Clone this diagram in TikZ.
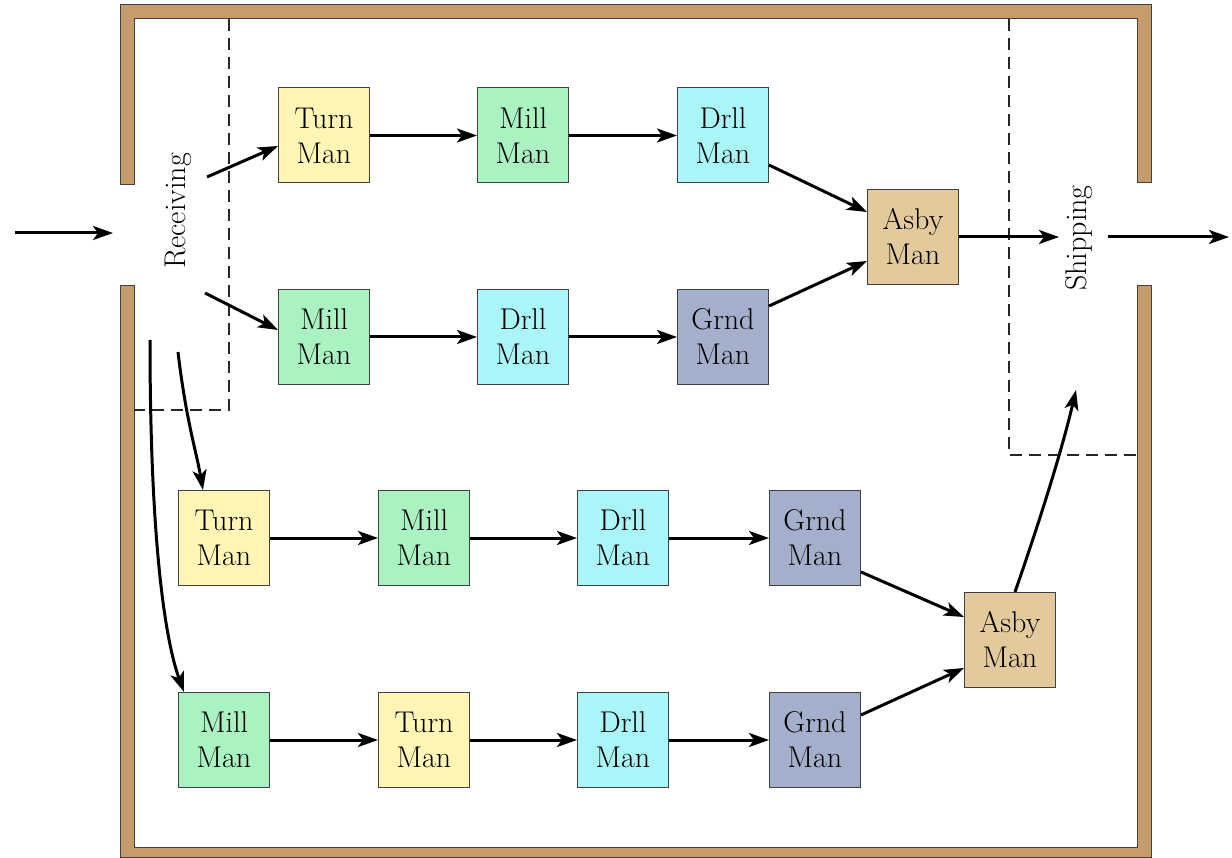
\documentclass[tikz,border=0pt]{standalone}
\usetikzlibrary{arrows.meta}
\definecolor{wall}{HTML}{C69C6D}
\definecolor{turnc}{HTML}{FFF6B6}
\definecolor{millc}{HTML}{AAF2C2}
\definecolor{drllc}{HTML}{A9F5F7}
\definecolor{grndc}{HTML}{A4AFCB}
\definecolor{asbyc}{HTML}{E3CA9C}
\begin{document}
\begin{tikzpicture}[x=1pt,y=-1pt,
  mach/.style={draw=black!75,line width=1pt,minimum width=91pt,minimum height=95pt,inner sep=0pt,align=center,font=\fontsize{30}{35}\selectfont},
  turn/.style={mach,fill=turnc},
  mill/.style={mach,fill=millc},
  drll/.style={mach,fill=drllc},
  grnd/.style={mach,fill=grndc},
  asby/.style={mach,fill=asbyc},
  flow/.style={line width=3pt,-{Stealth[length=20pt,width=14pt,inset=5pt]}},
  wallline/.style={fill=wall,draw=black!75,line width=1pt},
  zone/.style={dash pattern=on 12pt off 7pt,line width=1.2pt,black!85},
  lbl/.style={rotate=90,font=\fontsize{30}{35}\selectfont,inner sep=0pt}]
\useasboundingbox (0,0) rectangle (1232,858);
% walls
\draw[wallline] (120,185) -- (120,5) -- (1151,5) -- (1151,183) -- (1137,183) -- (1137,19) -- (134,19) -- (134,185) -- cycle;
\draw[wallline] (120,286) -- (120,857) -- (1151,857) -- (1151,286) -- (1137,286) -- (1137,847) -- (134,847) -- (134,286) -- cycle;
% zones
\draw[zone] (229,19) -- (229,410) -- (134,410);
\draw[zone] (1009,19) -- (1009,455) -- (1137,455);
% labels
\node[lbl] (rec) at (178,211) {Receiving};
\node[lbl] (shp) at (1079,238) {Shipping};
% row 1
\node[turn] (t1) at (324,135.5) {Turn\\Man};
\node[mill] (m1) at (523,135.5) {Mill\\Man};
\node[drll] (d1) at (723,135.5) {Drll\\Man};
% row 2
\node[mill] (m2) at (324,337) {Mill\\Man};
\node[drll] (d2) at (523,337) {Drll\\Man};
\node[grnd] (g2) at (723,337) {Grnd\\Man};
\node[asby] (a1) at (913,237) {Asby\\Man};
% row 3
\node[turn] (t3) at (224,538) {Turn\\Man};
\node[mill] (m3) at (424,538) {Mill\\Man};
\node[drll] (d3) at (623,538) {Drll\\Man};
\node[grnd] (g3) at (815,538) {Grnd\\Man};
% row 4
\node[mill] (m4) at (224,740) {Mill\\Man};
\node[turn] (t4) at (424,740) {Turn\\Man};
\node[drll] (d4) at (623,740) {Drll\\Man};
\node[grnd] (g4) at (815,740) {Grnd\\Man};
\node[asby] (a2) at (1010,640) {Asby\\Man};
% free ends
\coordinate (in0) at (15,233);
\coordinate (in1) at (113,233);
\coordinate (r1) at (207,177);
\coordinate (r2) at (205,293);
\coordinate (r3) at (178,352);
\coordinate (r4) at (150,340);
\coordinate (s1) at (1059,237);
\coordinate (s2) at (1108,237);
\coordinate (s3) at (1229,237);
\coordinate (s4) at (1076,390);
% arrows
\draw[flow] (in0) -- (in1);
\draw[flow] (r1) -- (t1.west |- 0,146);
\draw[flow] (r2) -- (m2.west |- 0,330);
\draw[flow] (r3) .. controls (186,420) and (196,450) .. (t3.north -| 203,0);
\draw[flow] (r4) .. controls (150,540) and (165,640) .. (m4.north -| 184,0);
\draw[flow] (t1) -- (m1);
\draw[flow] (m1) -- (d1);
\draw[flow] (m2) -- (d2);
\draw[flow] (d2) -- (g2);
\draw[flow] (d1.east |- 0,165) -- (a1.west |- 0,212);
\draw[flow] (g2.east |- 0,306) -- (a1.west |- 0,261);
\draw[flow] (a1) -- (s1);
\draw[flow] (s2) -- (s3);
\draw[flow] (t3) -- (m3);
\draw[flow] (m3) -- (d3);
\draw[flow] (d3) -- (g3);
\draw[flow] (m4) -- (t4);
\draw[flow] (t4) -- (d4);
\draw[flow] (d4) -- (g4);
\draw[flow] (g3.east |- 0,572) -- (a2.west |- 0,617);
\draw[flow] (g4.east |- 0,715) -- (a2.west |- 0,668);
\draw[flow] (a2.north -| 1015,0) .. controls (1040,520) and (1062,450) .. (s4);
\end{tikzpicture}
\end{document}
